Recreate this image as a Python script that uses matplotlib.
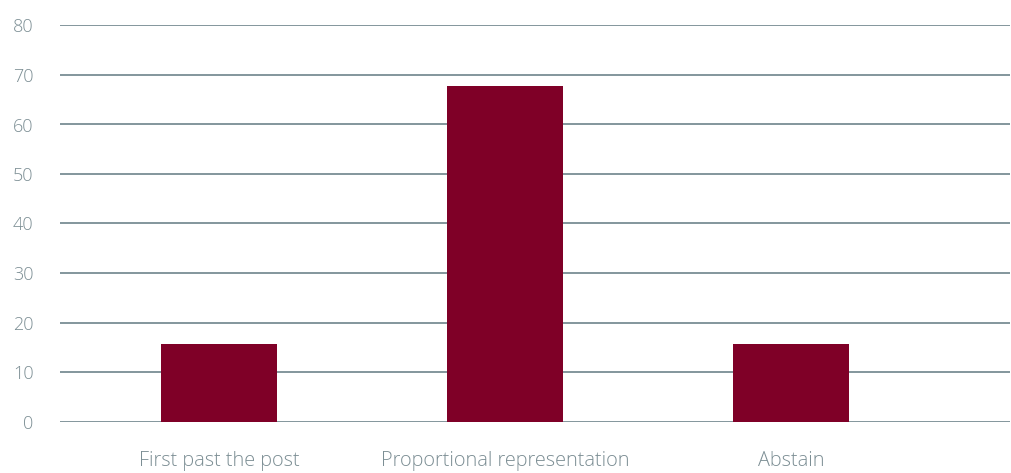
import matplotlib
matplotlib.use('Agg')
import matplotlib.pyplot as plt

# data
categories = ['First past the post', 'Proportional representation', 'Abstain']
values = [15.7, 67.8, 15.7]
yticks = [0, 10, 20, 30, 40, 50, 60, 70, 80]

BAR_COLOR = '#7f0027'
GRID_COLOR = '#7a8e94'
TEXT_COLOR = '#7c8e94'

plt.rcParams['font.family'] = ['Open Sans', 'DejaVu Sans']

fig = plt.figure(figsize=(10.11, 4.73), dpi=100)
ax = fig.add_axes([60 / 1011, (473 - 421.5) / 473, 950 / 1011, 396 / 473])

x = list(range(len(categories)))
ax.bar(x, values, width=0.406, color=BAR_COLOR, zorder=3)

ax.set_ylim(0, 80)
ax.set_xlim(-0.556, 2.766)
ax.set_yticks(yticks)
ax.set_xticks(x)
ax.set_xticklabels(categories)

ax.grid(axis='y', color=GRID_COLOR, linewidth=1.3, zorder=0)
ax.set_axisbelow(True)
for s in ax.spines.values():
    s.set_visible(False)

ax.tick_params(axis='both', length=0, labelcolor=TEXT_COLOR)
ax.tick_params(axis='y', pad=19, labelsize=13)
ax.tick_params(axis='x', pad=21, labelsize=14.3)
for lbl in ax.get_xticklabels() + ax.get_yticklabels():
    lbl.set_fontweight('light')

fig.savefig('out.png', dpi=100)
